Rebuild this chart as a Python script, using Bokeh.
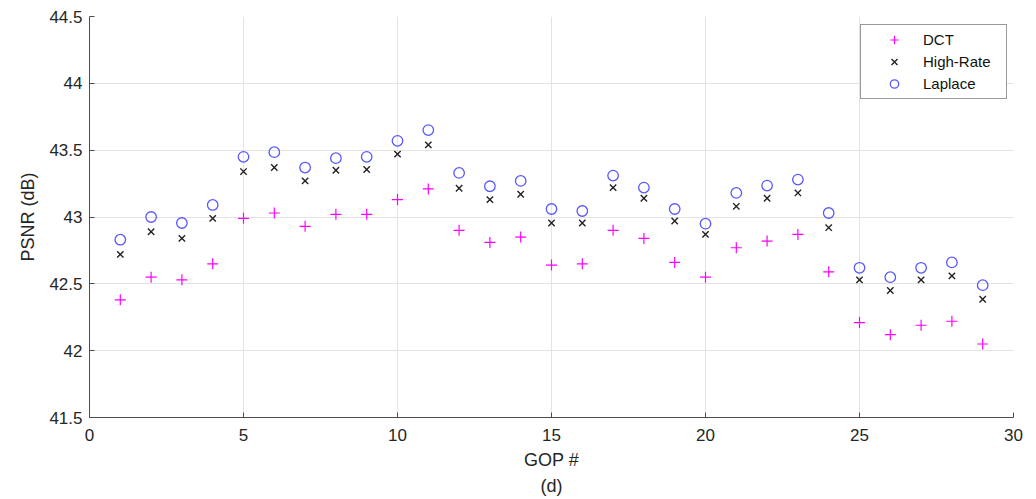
from bokeh.plotting import figure
from bokeh.models import Range1d, FixedTicker, Legend, LegendItem, Title
from bokeh.embed import file_html
from bokeh.resources import INLINE

gop = list(range(1, 30))
dct = [42.38, 42.55, 42.53, 42.65, 42.99, 43.03, 42.93, 43.02, 43.02, 43.13,
       43.21, 42.90, 42.81, 42.85, 42.64, 42.65, 42.90, 42.84, 42.66, 42.55,
       42.77, 42.82, 42.87, 42.59, 42.21, 42.12, 42.19, 42.22, 42.05]
high_rate = [42.72, 42.89, 42.84, 42.99, 43.34, 43.37, 43.27, 43.35, 43.355, 43.47,
             43.54, 43.215, 43.13, 43.17, 42.955, 42.955, 43.22, 43.14, 42.97, 42.87,
             43.08, 43.14, 43.18, 42.92, 42.53, 42.45, 42.53, 42.56, 42.385]
laplace = [42.83, 43.00, 42.955, 43.09, 43.45, 43.485, 43.37, 43.44, 43.45, 43.57,
           43.65, 43.33, 43.23, 43.27, 43.06, 43.045, 43.31, 43.22, 43.06, 42.95,
           43.18, 43.235, 43.28, 43.03, 42.62, 42.55, 42.62, 42.66, 42.49]
x_ticks = [0, 5, 10, 15, 20, 25, 30]
y_ticks = [41.5, 42, 42.5, 43, 43.5, 44, 44.5]

FONT = "Liberation Sans"
TXT = "#262626"

p = figure(width=1030, height=498, output_backend="svg", toolbar_location=None,
           x_range=Range1d(0, 30), y_range=Range1d(41.5, 44.5),
           min_border_left=89, min_border_right=17, min_border_top=16, min_border_bottom=81)
p.outline_line_color = None
p.background_fill_color = "white"

r1 = p.scatter(gop, dct, marker="cross", size=11, line_color="#ff00ff", line_width=1.2)
r2 = p.scatter(gop, high_rate, marker="x", size=9, line_color="#222222", line_width=1.4)
r3 = p.scatter(gop, laplace, marker="circle", size=10.5, line_color="#5858ff",
               fill_color=None, line_width=1.3)

for ax in (p.xaxis[0], p.yaxis[0]):
    ax.major_tick_in = 5
    ax.major_tick_out = 0
    ax.minor_tick_line_color = None
    ax.axis_line_color = "#4d4d4d"
    ax.major_tick_line_color = "#4d4d4d"
    ax.major_label_text_font = FONT
    ax.major_label_text_font_size = "17px"
    ax.major_label_text_color = TXT
    ax.axis_label_text_font = FONT
    ax.axis_label_text_font_size = "18px"
    ax.axis_label_text_font_style = "normal"
    ax.axis_label_text_color = TXT

p.xaxis.ticker = FixedTicker(ticks=x_ticks)
p.yaxis.ticker = FixedTicker(ticks=y_ticks)
p.xaxis.axis_label = "GOP #"
p.yaxis.axis_label = "PSNR (dB)"
p.xaxis.major_label_standoff = 11
p.yaxis.major_label_standoff = 7
p.xaxis.axis_label_standoff = 6
p.yaxis.axis_label_standoff = 8

p.grid.grid_line_color = "#e3e3e3"
p.grid.grid_line_width = 1

t = Title(text="(d)", align="center", text_font=FONT, text_font_size="18px",
          text_font_style="normal", text_color=TXT, standoff=2)
p.add_layout(t, "below")

legend = Legend(items=[LegendItem(label="DCT", renderers=[r1]),
                       LegendItem(label="High-Rate", renderers=[r2]),
                       LegendItem(label="Laplace", renderers=[r3])])
legend.margin = 0
legend.location = (771, 318)
legend.border_line_color = "#333333"
legend.border_line_width = 1
legend.background_fill_alpha = 1
legend.label_text_font = FONT
legend.label_text_font_size = "15px"
legend.label_text_color = "#111111"
legend.spacing = 1
legend.padding = 4
legend.glyph_width = 58
legend.glyph_height = 21
legend.label_height = 21
legend.label_width = 79
legend.label_standoff = 0
p.add_layout(legend)

open("out.html", "w").write(file_html(p, INLINE))
